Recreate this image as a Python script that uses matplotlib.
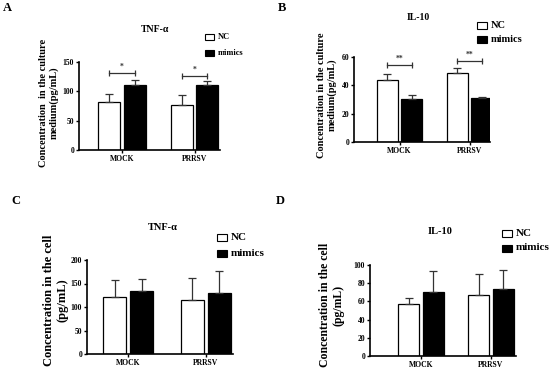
import matplotlib as mpl
mpl.use("Agg")
import matplotlib.pyplot as plt
import numpy as np

plt.rcParams['font.family'] = ['Liberation Serif', 'DejaVu Serif']
plt.rcParams['font.weight'] = 'bold'

groups = ["MOCK", "PRRSV"]
series = ["NC", "mimics"]

# panel A: TNF-a in culture medium
a_nc = [82, 76]
a_nc_err = [13, 17]
a_mim = [110, 111]
a_mim_err = [10, 6]
a_sig = [132, 126]
a_stars = ["*", "*"]

# panel B: IL-10 in culture medium
b_nc = [44, 48.5]
b_nc_err = [4, 4]
b_mim = [30.5, 31]
b_mim_err = [2.5, 1]
b_sig = [54.4, 57.2]
b_stars = ["**", "**"]

# panel C: TNF-a in the cell
c_nc = [122, 115]
c_nc_err = [35, 47]
c_mim = [134, 130]
c_mim_err = [26, 47]

# panel D: IL-10 in the cell
d_nc = [57.5, 67.5]
d_nc_err = [6, 22.5]
d_mim = [70, 73.5]
d_mim_err = [23, 21.5]

W, H = 550, 372
fig = plt.figure(figsize=(5.5, 3.72), dpi=100)


def px_axes(left, right, top, bottom):
    return fig.add_axes([left / W, 1 - bottom / H, (right - left) / W, (bottom - top) / H])


def draw_panel(ax, nc, nc_err, mim, mim_err, ymax, step, xlim, sig=None, stars=None):
    x = np.arange(len(groups))
    w, off = 0.30, 0.175
    ekw = dict(ecolor='#333333', elinewidth=0.9, capsize=3, capthick=0.9)
    ax.bar(x - off, nc, w, color='white', edgecolor='black', linewidth=0.9,
           yerr=[np.zeros(len(nc)), nc_err], error_kw=ekw, label=series[0])
    ax.bar(x + off, mim, w, color='black', edgecolor='black', linewidth=0.9,
           yerr=[np.zeros(len(mim)), mim_err], error_kw=ekw, label=series[1])
    ax.set_ylim(0, ymax)
    ax.set_xlim(*xlim)
    ax.set_yticks(np.arange(0, ymax + 1, step))
    ax.set_xticks(x)
    ax.set_xticklabels(groups)
    ax.tick_params(labelsize=5.5, length=2.5, width=1, pad=1)
    for lab in ax.get_xticklabels() + ax.get_yticklabels():
        lab.set_fontweight('bold')
    for s in ['top', 'right']:
        ax.spines[s].set_visible(False)
    for s in ['left', 'bottom']:
        ax.spines[s].set_linewidth(1.2)
    if sig is not None:
        for i, (yv, st) in enumerate(zip(sig, stars)):
            ax.plot([i - off, i + off], [yv, yv], color='#333333', lw=0.9,
                    marker='|', markersize=5, markeredgewidth=0.9, clip_on=False)
            ax.text(i, yv + ymax * 0.025, st, ha='center', va='bottom', fontsize=5.5,
                    color='#333333', clip_on=False)


def legend(x, y, dy, box_w, box_h, fs):
    for k, (name, fc) in enumerate(zip(series, ['white', 'black'])):
        yy = y + k * dy
        fig.patches.append(plt.Rectangle((x / W, 1 - (yy + box_h / 2) / H), box_w / W, box_h / H,
                                         transform=fig.transFigure, facecolor=fc,
                                         edgecolor='black', linewidth=0.8))
        fig.text((x + box_w + 4) / W, 1 - yy / H, name, fontsize=fs, fontweight='bold',
                 ha='left', va='center')


def ftext(x, y, s, **kw):
    fig.text(x / W, 1 - y / H, s, **kw)


axA = px_axes(79, 220, 62, 150)
draw_panel(axA, a_nc, a_nc_err, a_mim, a_mim_err, 150, 50, (-0.59, 1.35), a_sig, a_stars)
axB = px_axes(354, 490, 57, 142)
draw_panel(axB, b_nc, b_nc_err, b_mim, b_mim_err, 60, 20, (-0.65, 1.29), b_sig, b_stars)
axC = px_axes(87, 233, 260, 354)
draw_panel(axC, c_nc, c_nc_err, c_mim, c_mim_err, 200, 50, (-0.53, 1.35))
axD = px_axes(370, 516, 265, 356)
draw_panel(axD, d_nc, d_nc_err, d_mim, d_mim_err, 100, 20, (-0.73, 1.36))

# titles
ftext(155, 30, "TNF-α", fontsize=7, ha='center', va='center')
ftext(418, 18, "IL-10", fontsize=7, ha='center', va='center')
ftext(163, 228, "TNF-α", fontsize=7.5, ha='center', va='center')
ftext(440, 231, "IL-10", fontsize=7.5, ha='center', va='center')

# y labels
ftext(49, 103, "Concentration  in the culture\nmedium(pg/mL)", fontsize=7.5,
      rotation=90, ha='center', va='center', linespacing=1.1)
ftext(327, 95, "Concentration in the culture\nmedium(pg/mL)", fontsize=7.5,
      rotation=90, ha='center', va='center', linespacing=1.1)
ftext(56, 300, "Concentration in the cell\n(pg/mL)", fontsize=9,
      rotation=90, ha='center', va='center', linespacing=1.2)
ftext(332, 305, "Concentration in the cell\n(pg/mL)", fontsize=8.5,
      rotation=90, ha='center', va='center', linespacing=1.2)

# legends
legend(205, 37, 16, 9, 5.5, 6)
legend(477, 25, 14, 10, 7, 7.5)
legend(217, 237, 16, 10, 7, 8)
legend(502, 233, 15, 10, 7, 8)

# panel letters
ftext(7, 8, "A", fontsize=9, ha='center', va='center')
ftext(282, 8, "B", fontsize=9, ha='center', va='center')
ftext(16, 201, "C", fontsize=9, ha='center', va='center')
ftext(280, 201, "D", fontsize=9, ha='center', va='center')

fig.savefig("out.png", dpi=100)
